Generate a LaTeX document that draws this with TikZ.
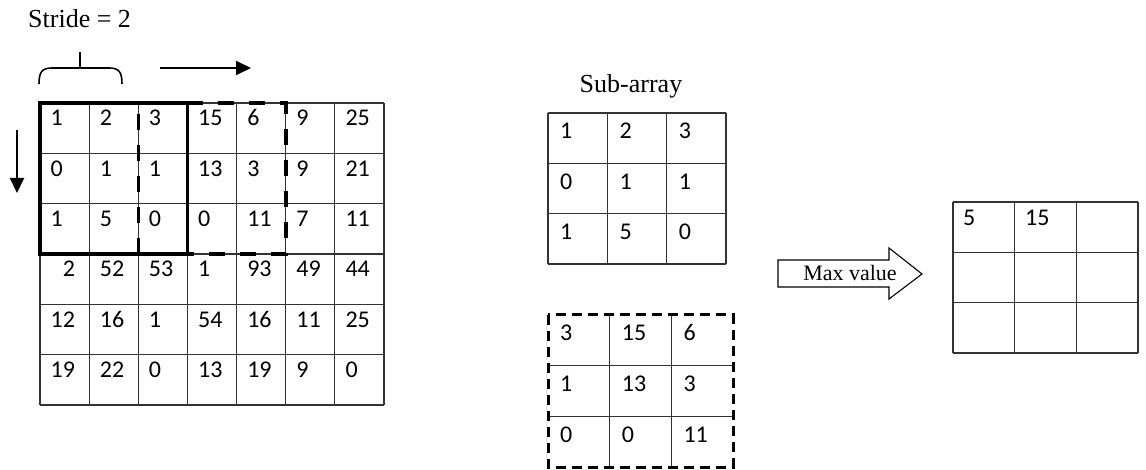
\documentclass[tikz,border=0pt]{standalone}
\usepackage{fontspec}
\setmainfont{Liberation Serif}
\newfontfamily\carlito{Carlito}
\usetikzlibrary{arrows.meta}
\begin{document}
\begin{tikzpicture}[x=1pt,y=-1pt,
  gridline/.style={draw=black!80,line width=1.1pt},
  boldbox/.style={draw=black,line width=3.6pt,line cap=rect},
  dashbox/.style={draw=black,line width=3.6pt,dash pattern=on 16pt off 15pt},
  smalldash/.style={draw=black,line width=3pt,dash pattern=on 10pt off 6pt},
  num/.style={anchor=base west,inner sep=0pt,font=\carlito\fontsize{24}{28}\selectfont},
  lbl/.style={inner sep=0pt,font=\fontsize{26}{30}\selectfont},
  arr/.style={line width=2pt,-{Triangle[length=15pt,width=14pt]}},
  fatarrow/.style={draw=black,line width=1.1pt,fill=white}]
\useasboundingbox (0,0) rectangle (1146,470);

% ---------- labels ----------
\node[lbl,anchor=base west] (stride) at (28,27.5) {Stride = 2};
\node[lbl,anchor=base] (sublbl) at (631,93) {Sub-array};

% brace
\draw[line width=1.6pt] (39,84) .. controls (39,72) and (42,68) .. (52,68) -- (109,68) .. controls (119,68) and (122,72) .. (122,84);
\draw[line width=1.6pt] (80,68) -- (80,52);

% stride arrows
\coordinate (ra1) at (160,68); \coordinate (ra2) at (251,68);
\draw[arr] (ra1) -- (ra2);
\coordinate (da1) at (17,130); \coordinate (da2) at (17,193);
\draw[arr] (da1) -- (da2);

% ---------- big grid ----------
\foreach \i in {0,...,7} \draw[gridline] ({40+49.14*\i},103) -- ({40+49.14*\i},405);
\foreach \j in {0,...,6} \draw[gridline] (40,{103+50.33*\j}) -- (384,{103+50.33*\j});
\foreach \row [count=\r from 0] in {{1,2,3,15,6,9,25},{0,1,1,13,3,9,21},{1,5,0,0,11,7,11},{{\phantom{0}2},52,53,1,93,49,44},{12,16,1,54,16,11,25},{19,22,0,13,19,9,0}}{
  \foreach \v [count=\c from 0] in \row {
    \node[num] (b-\r-\c) at ({40+49.14*\c+10.5},{103+50.33*\r+23}) {\v};
  }
}
\draw[boldbox] (40,103) rectangle (187.4,254);
\draw[dashbox,dash phase=0pt] (138.3,254) -- (138.3,103);
\draw[dashbox,dash phase=0pt] (187.4,103) -- (285.7,103) -- (285.7,254) -- (187.4,254);

% ---------- sub-array ----------
\foreach \i in {0,...,3} \draw[gridline] ({548+59.33*\i},113) -- ({548+59.33*\i},264);
\foreach \j in {0,...,3} \draw[gridline] (548,{113+50.33*\j}) -- (726,{113+50.33*\j});
\foreach \row [count=\r from 0] in {{1,2,3},{0,1,1},{1,5,0}}{
  \foreach \v [count=\c from 0] in \row {
    \node[num] (s-\r-\c) at ({548+59.33*\c+12},{113+50.33*\r+26}) {\v};
  }
}

% ---------- dashed sub-array ----------
\foreach \i in {1,2} \draw[gridline] ({548+61.67*\i},315) -- ({548+61.67*\i},467);
\foreach \j in {1,2} \draw[gridline] (548,{315+50.67*\j}) -- (733,{315+50.67*\j});
\draw[smalldash] (548,315) rectangle (733,467);
\foreach \row [count=\r from 0] in {{3,15,6},{1,13,3},{0,0,11}}{
  \foreach \v [count=\c from 0] in \row {
    \node[num] (d-\r-\c) at ({548+61.67*\c+12},{315+50.67*\r+26}) {\v};
  }
}

% ---------- max value arrow ----------
\draw[fatarrow] (778,260) -- (889,260) -- (889,248) -- (922,274) -- (889,299) -- (889,287) -- (778,287) -- cycle;
\node[inner sep=0pt,anchor=base,font=\fontsize{22}{26}\selectfont] (maxv) at (850,280.5) {Max value};

% ---------- output grid ----------
\foreach \i in {0,...,3} \draw[gridline] ({953+61.67*\i},202) -- ({953+61.67*\i},353);
\foreach \j in {0,...,3} \draw[gridline] (953,{202+50.33*\j}) -- (1138,{202+50.33*\j});
\node[num] (o-0-0) at (963,226) {5};
\node[num] (o-0-1) at (1025,226) {15};
\end{tikzpicture}
\end{document}
